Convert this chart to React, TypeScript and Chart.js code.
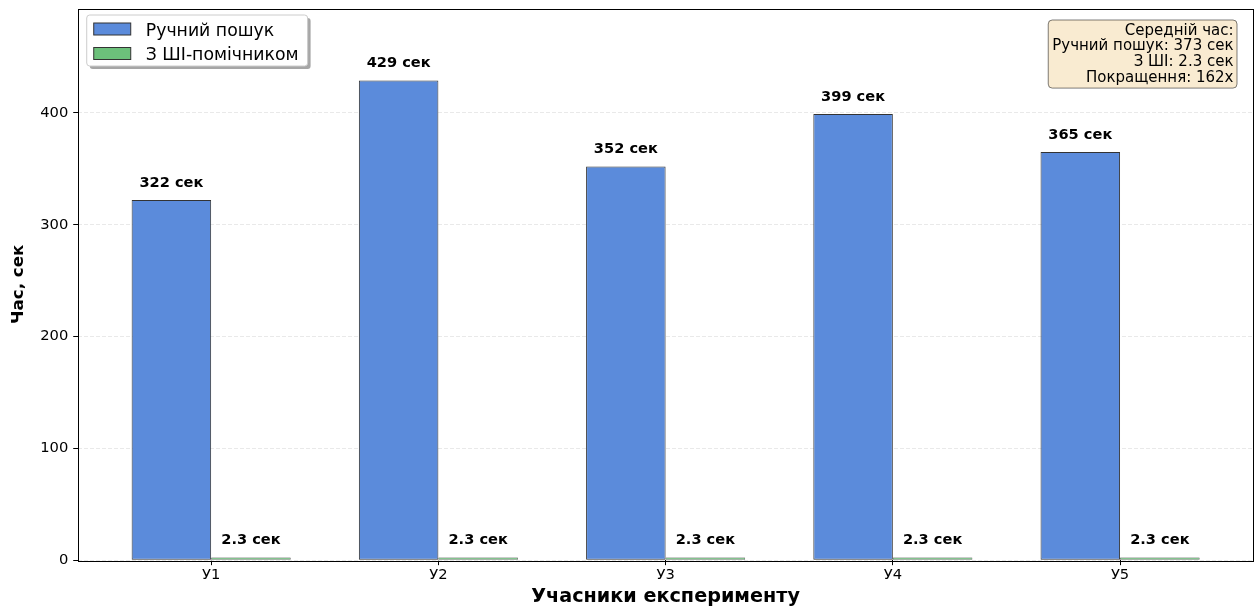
import React, { useEffect, useRef } from 'react';
import { Chart, registerables } from 'chart.js';

Chart.register(...registerables);

// ---- data ----
const categories = ['У1', 'У2', 'У3', 'У4', 'У5'];
const manualTimes = [322, 429, 352, 399, 365];
const aiTimes = [2.3, 2.3, 2.3, 2.3, 2.3];
const seriesLabels = ['Ручний пошук', 'З ШІ-помічником'];
const yTicks = [0, 100, 200, 300, 400];
const infoLines = ['Середній час:', 'Ручний пошук: 373 сек', 'З ШІ: 2.3 сек', 'Покращення: 162x'];
const xAxisTitle = 'Учасники експерименту';
const yAxisTitle = 'Час, сек';
const labelUnit = 'сек';

// axis limits (matplotlib-style margins)
const yMax = 493.35;
const xMin = -0.585;
const xMax = 4.585;

const FONT = "'DejaVu Sans', sans-serif";
const BLUE = '#5B8BDB';
const GREEN = '#6CC17B';
const EDGE = '#333333';

const framePlugin = {
  id: 'frame',
  afterDatasetsDraw(chart: any) {
    const { ctx, chartArea: a } = chart;
    ctx.save();
    ctx.strokeStyle = '#000';
    ctx.lineWidth = 1;
    ctx.strokeRect(Math.round(a.left) + 0.5, Math.round(a.top) + 0.5, Math.round(a.right - a.left), Math.round(a.bottom - a.top));
    ctx.restore();
  },
};

const barLabelPlugin = {
  id: 'barLabels',
  afterDatasetsDraw(chart: any) {
    const { ctx } = chart;
    const yScale = chart.scales.y;
    ctx.save();
    ctx.font = `bold 14.6px ${FONT}`;
    ctx.fillStyle = '#000';
    ctx.textAlign = 'center';
    ctx.textBaseline = 'alphabetic';
    chart.data.datasets.forEach((ds: any, di: number) => {
      const meta = chart.getDatasetMeta(di);
      meta.data.forEach((bar: any, i: number) => {
        const v = ds.data[i].y;
        const y = yScale.getPixelForValue(v + 10) - 2;
        ctx.fillText(`${v} ${labelUnit}`, bar.x, y);
      });
    });
    ctx.restore();
  },
};

function roundRect(ctx: any, x: number, y: number, w: number, h: number, r: number) {
  ctx.beginPath();
  ctx.moveTo(x + r, y);
  ctx.lineTo(x + w - r, y);
  ctx.quadraticCurveTo(x + w, y, x + w, y + r);
  ctx.lineTo(x + w, y + h - r);
  ctx.quadraticCurveTo(x + w, y + h, x + w - r, y + h);
  ctx.lineTo(x + r, y + h);
  ctx.quadraticCurveTo(x, y + h, x, y + h - r);
  ctx.lineTo(x, y + r);
  ctx.quadraticCurveTo(x, y, x + r, y);
  ctx.closePath();
}

const legendPlugin = {
  id: 'customLegend',
  afterDraw(chart: any) {
    const { ctx, chartArea: a } = chart;
    ctx.save();
    ctx.font = `17.3px ${FONT}`;
    const widths = chart.data.datasets.map((d: any) => ctx.measureText(d.label).width);
    const maxW = Math.max(...widths);
    const x = a.left + 8.5;
    const y = a.top + 6.5;
    const w = 7 + 37 + 15 + maxW + 9;
    const h = 51;
    // shadow
    ctx.fillStyle = 'rgba(0,0,0,0.35)';
    roundRect(ctx, x + 3, y + 3, w, h, 3);
    ctx.fill();
    ctx.fillStyle = '#fff';
    roundRect(ctx, x, y, w, h, 3);
    ctx.fill();
    ctx.strokeStyle = '#cccccc';
    ctx.lineWidth = 1;
    ctx.stroke();
    chart.data.datasets.forEach((d: any, i: number) => {
      const ry = y + 8 + i * 24.5;
      ctx.fillStyle = d.backgroundColor;
      ctx.fillRect(x + 7, ry, 37, 12);
      ctx.strokeStyle = d.borderColor;
      ctx.lineWidth = 1;
      ctx.strokeRect(x + 7, ry, 37, 12);
      ctx.fillStyle = '#000';
      ctx.textAlign = 'left';
      ctx.textBaseline = 'alphabetic';
      ctx.fillText(d.label, x + 7 + 37 + 15, ry + 12.5);
    });
    ctx.restore();
  },
};

const infoPlugin = {
  id: 'infoBox',
  afterDraw(chart: any) {
    const { ctx, chartArea: a } = chart;
    ctx.save();
    ctx.font = `15px ${FONT}`;
    const maxW = Math.max(...infoLines.map((t) => ctx.measureText(t).width));
    const right = a.right - 16;
    const top = a.top + 11.5;
    const padL = 4;
    const padR = 3.5;
    const lineH = 15.7;
    const w = maxW + padL + padR;
    const h = 14.5 + lineH * (infoLines.length - 1) + 6.5;
    roundRect(ctx, right - w, top, w, h, 4);
    ctx.fillStyle = 'rgba(245,222,179,0.6)';
    ctx.fill();
    ctx.strokeStyle = 'rgba(0,0,0,0.5)';
    ctx.lineWidth = 1;
    ctx.stroke();
    ctx.fillStyle = '#000';
    ctx.textAlign = 'right';
    ctx.textBaseline = 'alphabetic';
    infoLines.forEach((t, i) => {
      ctx.fillText(t, right - padR, top + 14.5 + i * lineH);
    });
    ctx.restore();
  },
};

export default function App() {
  const canvasRef = useRef<HTMLCanvasElement>(null);

  useEffect(() => {
    if (!canvasRef.current) return;
    const chart = new Chart(canvasRef.current, {
      type: 'bar',
      data: {
        datasets: [
          {
            label: seriesLabels[0],
            data: manualTimes.map((v, i) => ({ x: i, y: v })),
            backgroundColor: BLUE,
            borderColor: EDGE,
            borderWidth: 1,
            borderSkipped: false,
            categoryPercentage: 0.7,
            barPercentage: 1,
          },
          {
            label: seriesLabels[1],
            data: aiTimes.map((v, i) => ({ x: i, y: v })),
            backgroundColor: GREEN,
            borderColor: EDGE,
            borderWidth: 0.6,
            borderSkipped: false,
            categoryPercentage: 0.7,
            barPercentage: 1,
          },
        ],
      } as any,
      options: {
        animation: false,
        responsive: false,
        maintainAspectRatio: false,
        layout: { padding: { left: 10.5, top: 8.5, right: 7, bottom: 0 } },
        plugins: {
          legend: { display: false },
          tooltip: { enabled: false },
          title: { display: false },
        },
        scales: {
          x: {
            type: 'linear',
            offset: false,
            min: xMin,
            max: xMax,
            afterBuildTicks: (scale: any) => {
              scale.ticks = categories.map((_, i) => ({ value: i }));
            },
            grid: {
              offset: false,
              drawOnChartArea: false,
              drawTicks: true,
              tickLength: 5,
              tickColor: '#000',
              tickWidth: 1,
            },
            border: { display: false },
            ticks: {
              autoSkip: false,
              maxRotation: 0,
              padding: 1,
              color: '#000',
              font: { family: FONT, size: 14.7 },
              callback: (v: any) => categories[v] ?? '',
            },
            title: {
              display: true,
              text: xAxisTitle,
              color: '#000',
              font: { family: FONT, size: 19.2, weight: 'bold', lineHeight: 1.0 },
              padding: { top: 3, bottom: 0 },
            },
          },
          y: {
            type: 'linear',
            min: 0,
            max: yMax,
            afterBuildTicks: (scale: any) => {
              scale.ticks = yTicks.map((v) => ({ value: v }));
            },
            afterFit: (scale: any) => {
              scale.paddingTop = 0;
              scale.paddingBottom = 0;
            },
            grid: {
              color: '#e3e3e3',
              lineWidth: 0.8,
              drawTicks: true,
              tickLength: 5,
              tickColor: '#000',
              tickWidth: 1,
            },
            border: { display: false, dash: [4, 2] },
            ticks: {
              padding: 5,
              color: '#000',
              font: { family: FONT, size: 14.7 },
            },
            title: {
              display: true,
              text: yAxisTitle,
              color: '#000',
              font: { family: FONT, size: 16.7, weight: 'bold', lineHeight: 1.0 },
              padding: { top: 0, bottom: 8 },
            },
          },
        },
      } as any,
      plugins: [framePlugin, barLabelPlugin, legendPlugin, infoPlugin],
    });
    return () => chart.destroy();
  }, []);

  return (
    <div style={{ position: 'absolute', left: 0, top: 0, width: 1260, height: 607, background: '#fff' }}>
      <canvas ref={canvasRef} width={1260} height={607} style={{ width: 1260, height: 607 }} />
    </div>
  );
}
